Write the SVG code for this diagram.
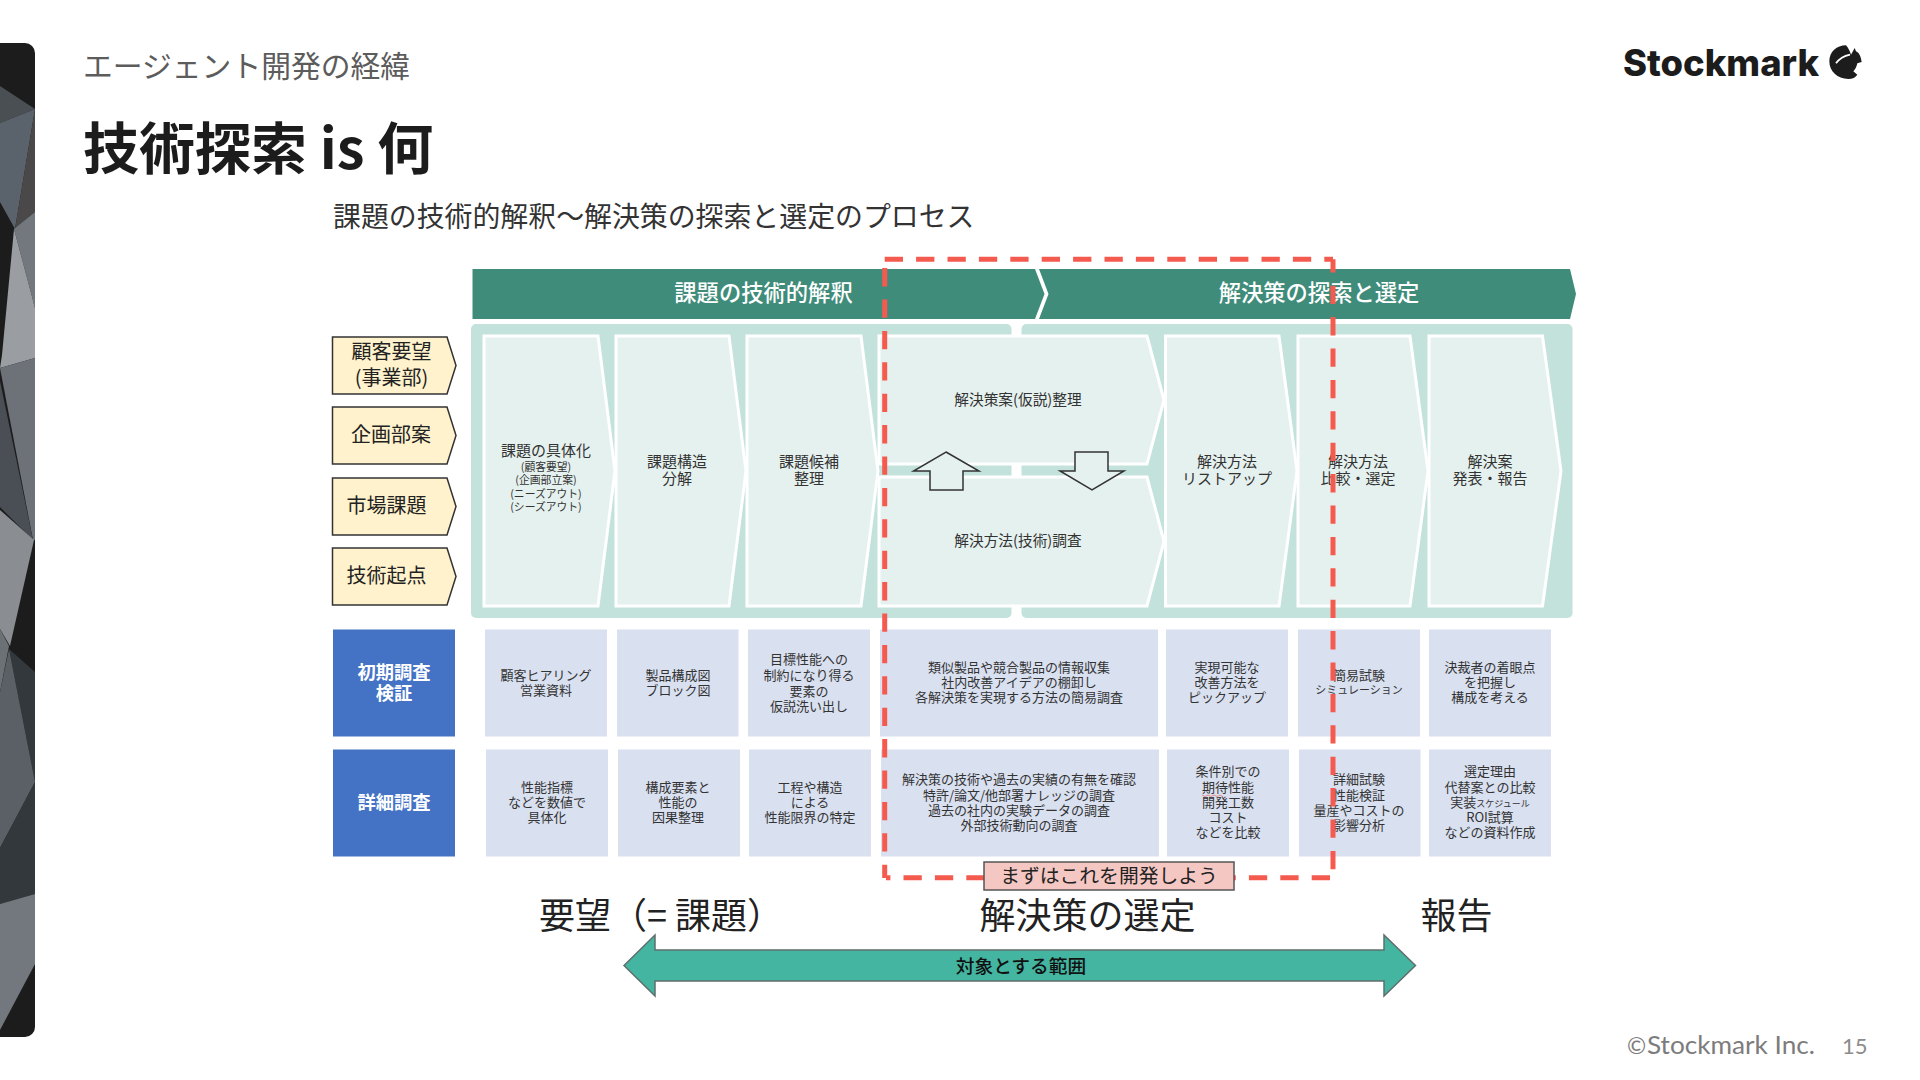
<svg xmlns="http://www.w3.org/2000/svg" width="1920" height="1080" viewBox="0 0 1920 1080">
<style>
text{font-family:"Noto Sans CJK JP","Noto Sans",sans-serif;text-anchor:middle;fill:#333}
.hd{font-size:22.300px;font-weight:500;fill:#fff}
.pan{fill:#c3e2dc}
.chev{fill:#e5f1ee;stroke:#fff;stroke-width:3}
.p{font-size:15px;transform:translateY(-.8px)}
.s{font-size:10.800px}
.tag{fill:#fff2cc;stroke:#333;stroke-width:1.500}
.t{font-size:20px;fill:#222}
.blue{fill:#4472c4}
.w{font-size:18.300px;font-weight:700;fill:#fff;transform:translateY(-.7px)}
.cell{fill:#d9e0f0}
.c{font-size:13px;transform:translateY(-.7px)}
.blk{fill:#e5f1ee;stroke:#333;stroke-width:1.500}
.dash{fill:none;stroke:#f55a4e;stroke-width:5;stroke-dasharray:18.300 13.100}
.big{font-size:36px;fill:#222}
.l{text-anchor:start}
</style>

<g id="side-strip">
<clipPath id="strip"><path d="M0 43H25a10 10 0 0 1 10 10V1027a10 10 0 0 1-10 10H0Z"/></clipPath>
<g clip-path="url(#strip)">
<rect x="0" y="43" width="35" height="994" fill="#1c1c1c"/>
<polygon points="0,86 35,109 0,123" fill="#4a4f54"/>
<polygon points="0,123 35,109 15,229 0,202" fill="#5a636b"/>
<polygon points="35,109 35,212 15,229" fill="#4a4848"/>
<polygon points="14,229 35,212 35,308" fill="#72787e"/>
<polygon points="14,229 35,308 35,358 0,368 2,355" fill="#9a9ea2"/>
<polygon points="0,368 35,358 35,540 33,540" fill="#6c7278"/>
<polygon points="0,381 33,540 0,507" fill="#4a4f55"/>
<polygon points="0,510 34,540 10,646 0,629" fill="#8a8e92"/>
<polygon points="0,629 9,646 0,692" fill="#6c7176"/>
<polygon points="9,649 35,672 35,782" fill="#33383c"/>
<polygon points="9,649 35,782 0,848 0,692" fill="#5a6066"/>
<polygon points="0,848 35,782 35,894 0,904" fill="#33383c"/>
<polygon points="0,904 35,894 35,964 0,1030" fill="#72787e"/>
</g>
</g>

<g id="slide-title">
<text x="83" y="77" class="l" style="font-size:29.800px;fill:#5c5c5c">エージェント開発の経緯</text>
<text x="83" y="169" class="l" style="font-size:56px;font-weight:700;fill:#1c1c1c">技術探索 is 何</text>
<text x="333" y="227" class="l" style="font-size:27.900px;fill:#333">課題の技術的解釈〜解決策の探索と選定のプロセス</text>
</g>

<g id="logo">
<text x="1623" y="76" class="l" textLength="196" lengthAdjust="spacingAndGlyphs" style="font-family:Inter,sans-serif;font-size:37px;font-weight:800;fill:#1c1c1c">Stockmark</text>
<g transform="translate(1820 38) scale(.3333)">
<path fill="#1c1c1c" d="M78 22C50 22 28 42 28 70C28 100 52 123 85 123C97 123 107 118 112 110L100 100C108 92 110 84 112 76L125 72C123 58 118 44 108 40L104 30L93 50C90 42 86 30 78 22Z"/>
<path fill="none" stroke="#fff" stroke-width="5" d="M48 76C58 62 72 54 90 50"/>
</g>
</g>

<g id="header-bar">
<polygon points="472.500,269 1035,269 1044.500,294 1035,319 472.500,319" fill="#408c7b"/>
<polygon points="1039,269 1570,269 1576,294 1570,319 1039,319 1048.500,294" fill="#408c7b"/>
<text x="763.500" y="301" class="hd">課題の技術的解釈</text>
<text x="1319" y="301" class="hd">解決策の探索と選定</text>
</g>

<g id="panels">
<rect x="471" y="324" width="540.500" height="294" rx="5" class="pan"/>
<rect x="1021.500" y="324" width="551" height="294" rx="5" class="pan"/>
</g>

<g id="step-1"><polygon class="chev" points="484,336 598,336 615,471 598,606 484,606"/>
<text x="546" y="457" class="p">課題の具体化</text>
<text x="546" y="471" class="s">(顧客要望)</text><text x="546" y="484" class="s">(企画部立案)</text><text x="546" y="498" class="s">(ニーズアウト)</text><text x="546" y="511" class="s">(シーズアウト)</text></g>
<g id="step-2"><polygon class="chev" points="616,336 729,336 746,471 729,606 616,606"/>
<text x="677" y="467.500" class="p">課題構造</text><text x="677" y="484.500" class="p">分解</text></g>
<g id="step-3"><polygon class="chev" points="747,336 861,336 878,471 861,606 747,606"/>
<text x="809" y="467.500" class="p">課題候補</text><text x="809" y="484.500" class="p">整理</text></g>
<g id="step-4a"><polygon class="chev" points="879,336 1147,336 1164,400 1147,464 879,464"/>
<text x="1018" y="405.500" class="p" style="font-size:14.700px">解決策案(仮説)整理</text></g>
<g id="step-4b"><polygon class="chev" points="879,477 1147,477 1164,541.500 1147,606 879,606"/>
<text x="1018" y="546.500" class="p" style="font-size:14.700px">解決方法(技術)調査</text></g>
<g id="step-5"><polygon class="chev" points="1165.500,336 1279,336 1297,471 1279,606 1165.500,606"/>
<text x="1227" y="467.500" class="p">解決方法</text><text x="1227" y="484.500" class="p">リストアップ</text></g>
<g id="step-6"><polygon class="chev" points="1298,336 1410,336 1428,471 1410,606 1298,606"/>
<text x="1358" y="467.500" class="p">解決方法</text><text x="1358" y="484.500" class="p">比較・選定</text></g>
<g id="step-7"><polygon class="chev" points="1429,336 1542.500,336 1561,471 1542.500,606 1429,606"/>
<text x="1490" y="467.500" class="p">解決案</text><text x="1490" y="484.500" class="p">発表・報告</text></g>

<g id="block-arrows">
<polygon class="blk" points="946,452 979,471 963,471 963,490 930,490 930,471 913.500,471"/>
<polygon class="blk" points="1075,452 1108,452 1108,471 1124,471 1092,490 1060,471 1075,471"/>
</g>

<g id="tag-1"><polygon class="tag" points="332.500,337 447,337 456,365.500 447,394 332.500,394"/>
<text x="391.500" y="359" class="t">顧客要望</text><text x="391.500" y="385" class="t">(事業部)</text></g>
<g id="tag-2"><polygon class="tag" points="332.500,407 447,407 456,435.500 447,464 332.500,464"/>
<text x="391" y="442" class="t">企画部案</text></g>
<g id="tag-3"><polygon class="tag" points="332.500,478 447,478 456,506.500 447,535 332.500,535"/>
<text x="386.500" y="513" class="t">市場課題</text></g>
<g id="tag-4"><polygon class="tag" points="332.500,548 447,548 456,576.500 447,605 332.500,605"/>
<text x="386.500" y="583" class="t">技術起点</text></g>

<g id="row-initial">
<rect x="333" y="629.500" width="122" height="107" class="blue"/>
<text x="394" y="680" class="w">初期調査</text><text x="394" y="701" class="w">検証</text>
<rect x="485" y="629.500" width="122" height="107" class="cell"/>
<text x="546" y="680.500" class="c">顧客ヒアリング</text><text x="546" y="696" class="c">営業資料</text>
<rect x="617" y="629.500" width="121.500" height="107" class="cell"/>
<text x="678" y="680.500" class="c">製品構成図</text><text x="678" y="696" class="c">ブロック図</text>
<rect x="748" y="629.500" width="122" height="107" class="cell"/>
<text x="809" y="665" class="c">目標性能への</text><text x="809" y="681" class="c">制約になり得る</text><text x="809" y="697" class="c">要素の</text><text x="809" y="712" class="c">仮説洗い出し</text>
<rect x="880" y="629.500" width="278" height="107" class="cell"/>
<text x="1019" y="673" class="c">類似製品や競合製品の情報収集</text><text x="1019" y="688" class="c">社内改善アイデアの棚卸し</text><text x="1019" y="703" class="c">各解決策を実現する方法の簡易調査</text>
<rect x="1166" y="629.500" width="122" height="107" class="cell"/>
<text x="1227" y="673" class="c">実現可能な</text><text x="1227" y="688" class="c">改善方法を</text><text x="1227" y="703" class="c">ピックアップ</text>
<rect x="1298" y="629.500" width="122" height="107" class="cell"/>
<text x="1359" y="681" class="c">簡易試験</text><text x="1359" y="694" style="font-size:11px">シミュレーション</text>
<rect x="1429" y="629.500" width="122" height="107" class="cell"/>
<text x="1490" y="673" class="c">決裁者の着眼点</text><text x="1490" y="688" class="c">を把握し</text><text x="1490" y="703" class="c">構成を考える</text>
</g>

<g id="row-detail">
<rect x="333" y="749.500" width="122" height="107" class="blue"/>
<text x="394" y="810" class="w">詳細調査</text>
<rect x="486" y="749.500" width="122" height="107" class="cell"/>
<text x="547" y="793" class="c">性能指標</text><text x="547" y="808" class="c">などを数値で</text><text x="547" y="823" class="c">具体化</text>
<rect x="618" y="749.500" width="122" height="107" class="cell"/>
<text x="678" y="793" class="c">構成要素と</text><text x="678" y="808" class="c">性能の</text><text x="678" y="823" class="c">因果整理</text>
<rect x="749" y="749.500" width="122" height="107" class="cell"/>
<text x="810" y="793" class="c">工程や構造</text><text x="810" y="808" class="c">による</text><text x="810" y="823" class="c">性能限界の特定</text>
<rect x="881" y="749.500" width="278" height="107" class="cell"/>
<text x="1019" y="785" class="c">解決策の技術や過去の実績の有無を確認</text><text x="1019" y="800.500" class="c">特許/論文/他部署ナレッジの調査</text><text x="1019" y="816" class="c">過去の社内の実験データの調査</text><text x="1019" y="831" class="c">外部技術動向の調査</text>
<rect x="1167" y="749.500" width="122" height="107" class="cell"/>
<text x="1228" y="777" class="c">条件別での</text><text x="1228" y="793" class="c">期待性能</text><text x="1228" y="808" class="c">開発工数</text><text x="1228" y="823" class="c">コスト</text><text x="1228" y="838" class="c">などを比較</text>
<path d="M1202 795l3 1.500 3-1.500 3 1.500 3-1.500 3 1.500 3-1.500 3 1.500" fill="none" stroke="#e58b8b" stroke-width="1"/>
<rect x="1299" y="749.500" width="121.500" height="107" class="cell"/>
<text x="1359" y="785" class="c">詳細試験</text><text x="1359" y="800.500" class="c">性能検証</text><text x="1359" y="816" class="c">量産やコストの</text><text x="1359" y="831" class="c">影響分析</text>
<rect x="1429" y="749.500" width="122" height="107" class="cell"/>
<text x="1490" y="777" class="c">選定理由</text><text x="1490" y="793" class="c">代替案との比較</text><text x="1490" y="808" class="c">実装<tspan style="font-size:9px">スケジュール</tspan></text><text x="1490" y="823" class="c">ROI試算</text><text x="1490" y="838" class="c">などの資料作成</text>
</g>

<g id="connectors">
<path class="dash" d="M884.700 259.300H1333"/>
<path class="dash" d="M1333 259.300V870" stroke-dashoffset="5"/>
<path class="dash" d="M1330 877.700H886"/>
<path class="dash" d="M884.700 878V259.300" stroke-dashoffset="5"/>
</g>

<g id="callout">
<rect x="984" y="862" width="250" height="28" fill="#f4c7c3" stroke="#555" stroke-width="1.500"/>
<text x="1109" y="883" style="font-size:19.800px;fill:#222">まずはこれを開発しよう</text>
</g>

<g id="range-labels">
<text x="539" y="929" class="big l">要望（= 課題）</text>
<text x="1087.500" y="929" class="big">解決策の選定</text>
<text x="1456.500" y="929" class="big">報告</text>
</g>

<g id="range-arrow">
<polygon points="624,965.500 655,935 655,950 1384,950 1384,935 1415.500,965.500 1384,996 1384,981 655,981 655,996" fill="#43b5a0" stroke="#5f6f6b" stroke-width="1.500"/>
<text x="1021" y="973" style="font-size:18.700px;font-weight:500;fill:#111">対象とする範囲</text>
</g>

<g id="footer">
<text x="1627" y="1054" class="l" style="font-family:Lato,sans-serif;font-size:23px;fill:#7c7c7c">©</text>
<text x="1647" y="1054" class="l" textLength="168" lengthAdjust="spacingAndGlyphs" style="font-family:Lato,sans-serif;font-size:25px;fill:#7c7c7c">Stockmark Inc.</text>
<text x="1842" y="1054" class="l" style="font-family:Lato,sans-serif;font-size:22px;fill:#8c8c8c">15</text>
</g>
</svg>
